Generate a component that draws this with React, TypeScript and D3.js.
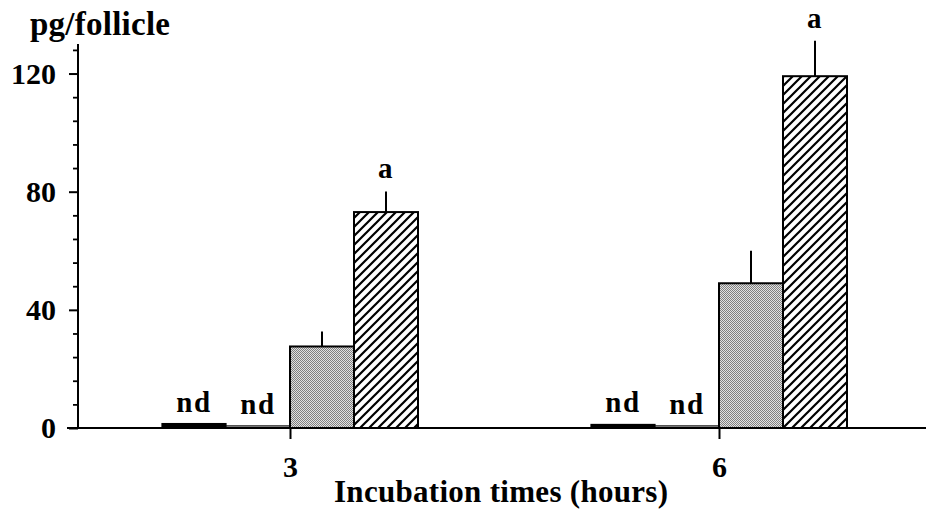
import { useEffect, useRef } from 'react'
import * as d3 from 'd3'

// incubation times (hours) on the x axis
const times = ['3', '6']
// four treatments per time point, left to right
const series = ['black', 'open', 'stipple', 'hatch']
const blackVals = [1.5, 1.2]
const openVals = [0.7, 0.7]
const stippleVals = [27.6, 49.0]
const hatchVals = [73.1, 119.1]
const stippleErr = [5.1, 11.0]
const hatchErr = [7.0, 12.0]
// letters printed over the bars
const blackNote = ['nd', 'nd']
const openNote = ['nd', 'nd']
const hatchNote = ['a', 'a']

const yMajor = [0, 40, 80, 120]
const yMinor = [8, 16, 24, 32, 48, 56, 64, 72, 88, 96, 104, 112, 128]

const W = 928, H = 511
const M = { top: 44, right: 2, bottom: 83, left: 78 }
const IW = W - M.left - M.right
const IH = H - M.top - M.bottom
const FONT = "'Liberation Serif', 'Times New Roman', serif"

export default function App() {
  const svgRef = useRef<SVGSVGElement>(null)

  useEffect(() => {
    const svg = d3.select(svgRef.current)
    svg.selectAll('*').remove()
    svg.attr('viewBox', `0 0 ${W} ${H}`)

    // 패턴
    const defs = svg.append('defs')
    const st = defs.append('pattern').attr('id', 'stip')
      .attr('patternUnits', 'userSpaceOnUse').attr('width', 2).attr('height', 2)
    st.append('rect').attr('width', 2).attr('height', 2).attr('fill', '#e2e2e2')
    st.append('rect').attr('width', 1).attr('height', 1).attr('fill', '#808080')
    st.append('rect').attr('x', 1).attr('y', 1).attr('width', 1).attr('height', 1).attr('fill', '#808080')

    const ht = defs.append('pattern').attr('id', 'hatch')
      .attr('patternUnits', 'userSpaceOnUse').attr('width', 9).attr('height', 9)
    ht.append('rect').attr('width', 9).attr('height', 9).attr('fill', '#fff')
    ht.append('path').attr('d', 'M0,9 L9,0 M-3,3 L3,-3 M6,12 L12,6')
      .attr('stroke', '#000').attr('stroke-width', 2.2)

    const y = d3.scaleLinear().domain([0, 130]).range([IH, 0])
    const x = d3.scalePoint().domain(times).range([290 - M.left, 719 - M.left])
    const xs = d3.scaleBand().domain(series).range([-128, 128])

    const g = svg.append('g').attr('transform', `translate(${M.left},${M.top})`)

    const fills: Record<string, string> = {
      black: '#000', open: '#fff', stipple: 'url(#stip)', hatch: 'url(#hatch)',
    }
    const vals: Record<string, number[]> = {
      black: blackVals, open: openVals, stipple: stippleVals, hatch: hatchVals,
    }

    const rows = times.flatMap((t, i) => series.map((s) => ({ t, i, s, v: vals[s][i] })))

    // 막대
    g.selectAll('rect.bar').data(rows).join('rect')
      .attr('class', 'bar')
      .attr('x', (d) => x(d.t)! + xs(d.s)!)
      .attr('width', xs.bandwidth())
      .attr('y', (d) => y(d.v))
      .attr('height', (d) => y(0) - y(d.v))
      .attr('fill', (d) => fills[d.s])
      .attr('stroke', '#000')
      .attr('stroke-width', (d) => (d.s === 'black' || d.s === 'open' ? 1.2 : 2))

    // 오차 막대 (위쪽만)
    const errs = times.flatMap((t, i) => [
      { t, s: 'stipple', v: stippleVals[i], e: stippleErr[i] },
      { t, s: 'hatch', v: hatchVals[i], e: hatchErr[i] },
    ])
    g.selectAll('line.err').data(errs).join('line')
      .attr('class', 'err')
      .attr('x1', (d) => x(d.t)! + xs(d.s)! + xs.bandwidth() / 2)
      .attr('x2', (d) => x(d.t)! + xs(d.s)! + xs.bandwidth() / 2)
      .attr('y1', (d) => y(d.v))
      .attr('y2', (d) => y(d.v + d.e))
      .attr('stroke', '#000').attr('stroke-width', 2)

    // 주석 (nd, a)
    const notes = times.flatMap((t, i) => [
      { t, s: 'black', txt: blackNote[i], top: blackVals[i], gap: 12 },
      { t, s: 'open', txt: openNote[i], top: openVals[i], gap: 12 },
      { t, s: 'hatch', txt: hatchNote[i], top: hatchVals[i] + hatchErr[i], gap: 13 },
    ])
    g.selectAll('text.note').data(notes).join('text')
      .attr('class', 'note')
      .attr('x', (d) => x(d.t)! + xs(d.s)! + xs.bandwidth() / 2)
      .attr('y', (d) => y(d.top) - d.gap)
      .attr('text-anchor', 'middle')
      .attr('font-family', FONT).attr('font-weight', 'bold').attr('font-size', 29)
      .attr('letter-spacing', 1.5)
      .text((d) => d.txt)

    // y축
    const yAx = g.append('g')
      .call(d3.axisLeft(y).tickValues(yMajor).tickSize(9).tickSizeOuter(0).tickPadding(13))
    yAx.select('.domain').remove()
    yAx.selectAll('line').attr('stroke-width', 2)
    yAx.selectAll('text').attr('font-family', FONT).attr('font-weight', 'bold')
      .attr('font-size', 30).attr('fill', '#000')

    const yMin = g.append('g')
      .call(d3.axisLeft(y).tickValues(yMinor).tickSize(5).tickSizeOuter(0).tickFormat(() => ''))
    yMin.select('.domain').remove()
    yMin.selectAll('line').attr('stroke-width', 1.8)

    g.append('line')
      .attr('x1', 0).attr('x2', 0).attr('y1', y(0)).attr('y2', y(130))
      .attr('stroke', '#000').attr('stroke-width', 2)

    // x축
    const xAx = g.append('g').attr('transform', `translate(0,${IH})`)
      .call(d3.axisBottom(x).tickSize(11).tickSizeOuter(0).tickPadding(17))
    xAx.select('.domain').remove()
    xAx.selectAll('line').attr('stroke-width', 2)
    xAx.selectAll('text').attr('font-family', FONT).attr('font-weight', 'bold')
      .attr('font-size', 30).attr('fill', '#000')

    g.append('line')
      .attr('x1', -11).attr('x2', IW).attr('y1', IH).attr('y2', IH)
      .attr('stroke', '#000').attr('stroke-width', 2)

    // 축 레이블
    svg.append('text')
      .attr('x', 30).attr('y', 35)
      .attr('font-family', FONT).attr('font-weight', 'bold').attr('font-size', 33)
      .attr('textLength', 140).attr('lengthAdjust', 'spacing')
      .text('pg/follicle')

    svg.append('text')
      .attr('x', 501).attr('y', 502)
      .attr('text-anchor', 'middle')
      .attr('font-family', FONT).attr('font-weight', 'bold').attr('font-size', 31)
      .attr('textLength', 334).attr('lengthAdjust', 'spacing')
      .text('Incubation times (hours)')
  }, [])

  return (
    <svg ref={svgRef} width={W} height={H}
      style={{ position: 'absolute', left: 0, top: 0, background: '#fff' }} />
  )
}
